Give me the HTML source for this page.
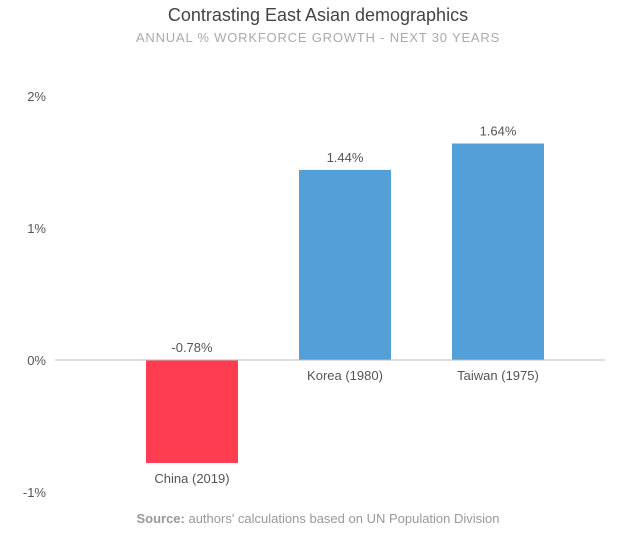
<!DOCTYPE html>
<html><head><meta charset="utf-8"><style>
body{margin:0;background:#fff;font-family:"Liberation Sans",sans-serif;}
svg{display:block}
</style></head><body>
<svg id="chart" width="631" height="534">
<text x="318" y="21" text-anchor="middle" font-size="18" fill="#444">Contrasting East Asian demographics</text>
<text x="318" y="42" text-anchor="middle" font-size="13" fill="#aaa" letter-spacing="0.8">ANNUAL % WORKFORCE GROWTH - NEXT 30 YEARS</text>
<g id="yaxis"></g>
<g id="bars"></g>
<line x1="55" x2="605" y1="360" y2="360" stroke="#bbb" stroke-width="1"/>
<text x="318" y="523" text-anchor="middle" font-size="13" fill="#999"><tspan font-weight="bold">Source:</tspan> authors' calculations based on UN Population Division</text>
</svg>
<script>
const categories=["China (2019)","Korea (1980)","Taiwan (1975)"];
const values=[-0.78,1.44,1.64];
const valueLabels=["-0.78%","1.44%","1.64%"];
const yTicks=[2,1,0,-1];
const yTickLabels=["2%","1%","0%","-1%"];
const NS="http://www.w3.org/2000/svg";
function y(v){return 360-v*132;}
function xc(i){return 192+i*153;}
const bw=92;
const ya=document.getElementById('yaxis');
yTicks.forEach((t,i)=>{
 const tx=document.createElementNS(NS,'text');
 tx.setAttribute('x',46);tx.setAttribute('y',y(t)+5);tx.setAttribute('text-anchor','end');
 tx.setAttribute('font-size','13');tx.setAttribute('fill','#555');tx.textContent=yTickLabels[i];
 
 
 ya.appendChild(tx);
});
const bg=document.getElementById('bars');
values.forEach((v,i)=>{
 const r=document.createElementNS(NS,'rect');
 const top=Math.min(y(v),y(0)),h=Math.abs(y(v)-y(0));
 r.setAttribute('x',xc(i)-bw/2);r.setAttribute('y',top);r.setAttribute('width',bw);r.setAttribute('height',h);
 r.setAttribute('fill',v<0?'#ff3d51':'#539fd8');
 
 
 bg.appendChild(r);
 const vl=document.createElementNS(NS,'text');
 vl.setAttribute('x',xc(i));vl.setAttribute('y',(v<0?y(0):y(v))-8);vl.setAttribute('text-anchor','middle');
 vl.setAttribute('font-size','13');vl.setAttribute('fill','#555');vl.textContent=valueLabels[i];
 
 
 bg.appendChild(vl);
 const cl=document.createElementNS(NS,'text');
 cl.setAttribute('x',xc(i));cl.setAttribute('y',(v<0?y(v):y(0))+20);cl.setAttribute('text-anchor','middle');
 cl.setAttribute('font-size','13');cl.setAttribute('fill','#555');cl.textContent=categories[i];
 
 
 bg.appendChild(cl);
});
</script>
</body></html>
